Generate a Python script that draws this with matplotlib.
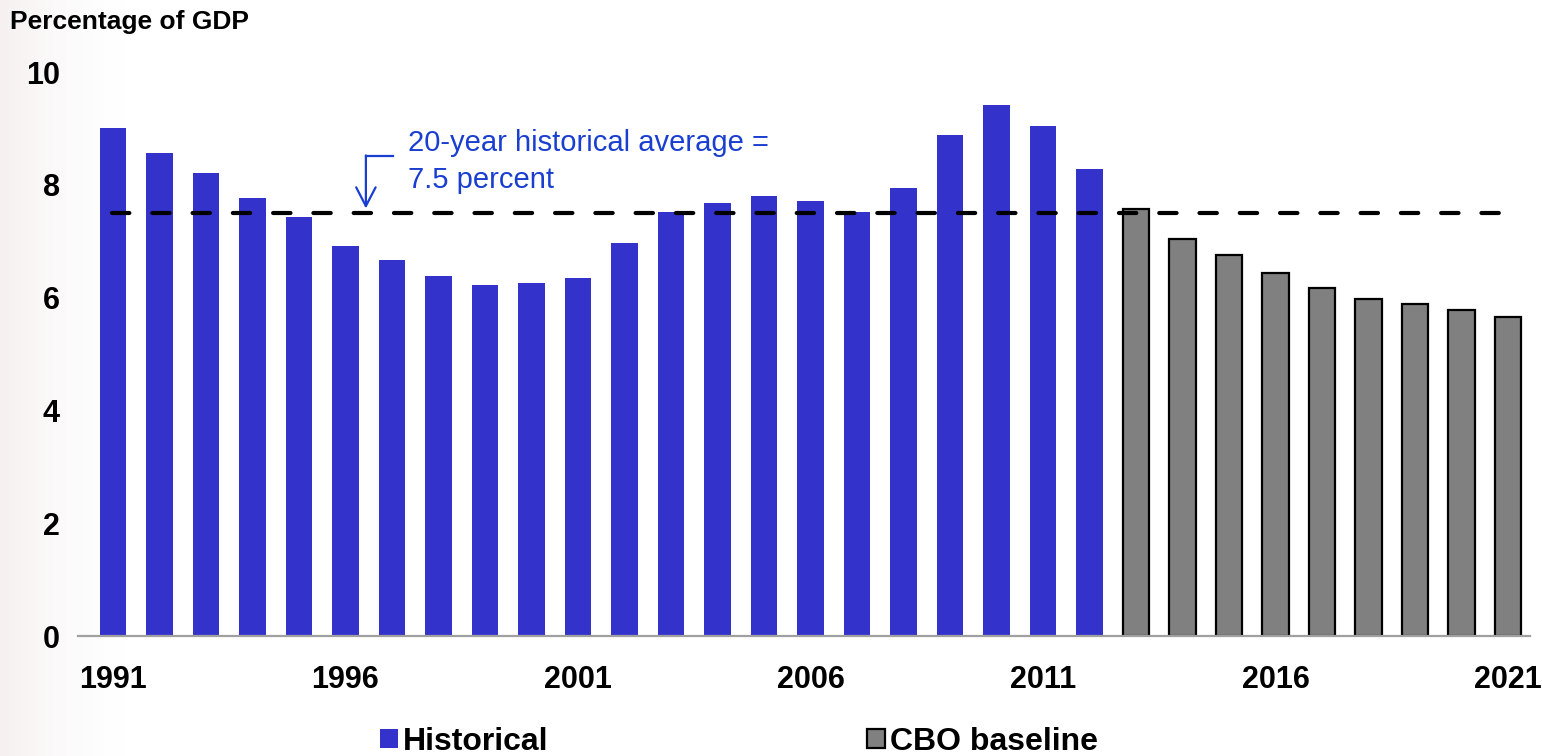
import matplotlib
matplotlib.use("Agg")
import matplotlib.pyplot as plt
from matplotlib.patches import Patch
import numpy as np

plt.rcParams['font.family'] = ['Liberation Sans', 'DejaVu Sans']
plt.rcParams['lines.scale_dashes'] = False

hist_years = list(range(1991, 2013))
hist_values = [9.01, 8.56, 8.21, 7.77, 7.43, 6.91, 6.67, 6.38, 6.22, 6.26, 6.35,
               6.97, 7.52, 7.68, 7.80, 7.71, 7.52, 7.94, 8.88, 9.41, 9.04, 8.28]
cbo_years = list(range(2013, 2022))
cbo_values = [7.57, 7.04, 6.76, 6.44, 6.17, 5.98, 5.89, 5.78, 5.66]
avg_value = 7.5
xtick_years = [1991, 1996, 2001, 2006, 2011, 2016, 2021]
ytick_values = [0, 2, 4, 6, 8, 10]

blue = '#3333cc'
gray = '#808080'
annot_color = '#1a3fd0'

fig = plt.figure(figsize=(15.42, 7.56), dpi=100)

# faint background tint on the left edge
bg = fig.add_axes([0, 0, 1, 1], zorder=-10)
xs = np.linspace(0, 1, 400)
fade = np.clip(1 - xs / 0.08, 0, 1) ** 1.5
img = np.ones((1, 400, 3))
tint = np.array([0.965, 0.945, 0.945])
img[0] = 1 - fade[:, None] * (1 - tint)
bg.imshow(img, aspect='auto', extent=[0, 1, 0, 1])
bg.axis('off')

ax = fig.add_axes([78/1542, 120/756, (1530-78)/1542, (636-72)/756])

ax.bar(hist_years, hist_values, width=0.57, color=blue, linewidth=0)
ax.bar(cbo_years, cbo_values, width=0.57, color=gray, edgecolor='black', linewidth=1.6)

ax.plot([1990.98, 2020.9], [avg_value, avg_value], color='black', lw=3,
        dashes=(12.5, 16.5), dash_capstyle='round', zorder=5)

# annotation arrow
ax.plot([1997.02, 1996.44], [8.51, 8.51], color=annot_color, lw=1.6, zorder=6)
ax.annotate('', xy=(1996.44, 7.58), xytext=(1996.44, 8.52),
            arrowprops=dict(arrowstyle='->,head_length=1.35,head_width=0.7',
                            color=annot_color, lw=1.6, shrinkA=0, shrinkB=0), zorder=6)
ax.text(1997.34, 8.74, '20-year historical average =', color=annot_color,
        fontsize=21, va='center', ha='left')
ax.text(1997.34, 8.08, '7.5 percent', color=annot_color,
        fontsize=21, va='center', ha='left')

ax.set_xlim(1990.25, 2021.47)
ax.set_ylim(0, 10)
ax.set_xticks(xtick_years)
ax.set_xticklabels([str(y) for y in xtick_years], fontsize=22, fontweight='bold')
ax.set_yticks(ytick_values)
ax.set_yticklabels([str(v) for v in ytick_values], fontsize=22, fontweight='bold')
ax.tick_params(axis='both', length=0)
ax.tick_params(axis='x', pad=21)
ax.tick_params(axis='y', pad=13)
for s in ['top', 'right', 'left']:
    ax.spines[s].set_visible(False)
ax.spines['bottom'].set_color('#a0a0a0')
ax.spines['bottom'].set_linewidth(1.6)
ax.set_facecolor('none')

fig.text(10/1542, 1-22/756, 'Percentage of GDP', fontsize=19, fontweight='bold',
         va='center', ha='left')

handles = [Patch(facecolor=blue, edgecolor='none', label='Historical'),
           Patch(facecolor=gray, edgecolor='black', linewidth=1.6, label='CBO baseline')]
fig.legend(handles=handles, loc='center', bbox_to_anchor=(739/1542, 14/756), ncol=2,
           frameon=False, prop=dict(size=23, weight='bold'), handlelength=0.55,
           handleheight=0.55, handletextpad=0.15, columnspacing=10.0, borderpad=0,
           borderaxespad=0)

fig.savefig('out.png', dpi=100)
